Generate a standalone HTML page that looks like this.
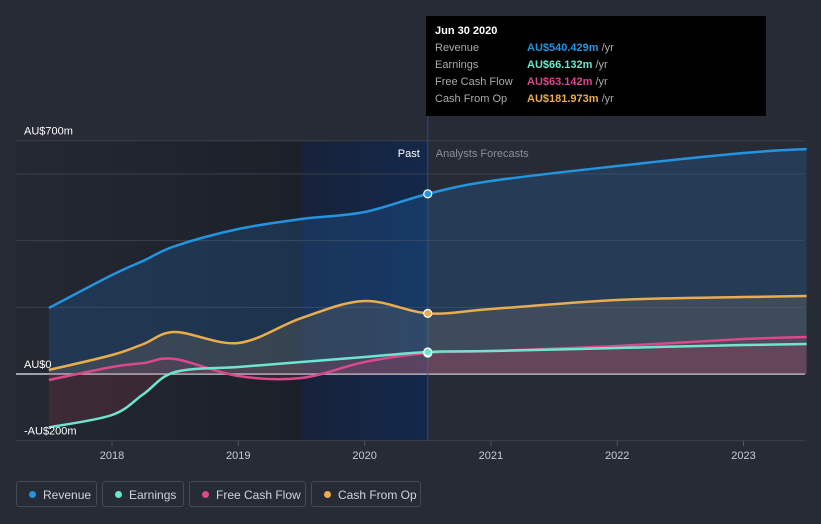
<!DOCTYPE html>
<html><head><meta charset="utf-8">
<style>
body{margin:0;width:821px;height:524px;background:#262b36;font-family:"Liberation Sans",sans-serif;overflow:hidden;position:relative}
.lg{position:absolute;top:481px;height:26px;border:1px solid #444b58;border-radius:3px;color:#d0d4db;font-size:12px;line-height:26px;box-sizing:border-box;padding-left:26px}
.lg i{position:absolute;left:12px;top:9px;width:7px;height:7px;border-radius:50%}
</style></head><body>
<svg id="chart" width="821" height="524" style="position:absolute;left:0;top:0">
<defs>
<linearGradient id="pastg" x1="0" x2="1" y1="0" y2="0"><stop offset="0" stop-color="#232833"/><stop offset="1" stop-color="#1c2029"/></linearGradient>
<linearGradient id="hlg" x1="0" x2="1" y1="0" y2="0"><stop offset="0" stop-color="#17223a"/><stop offset="1" stop-color="#13284a"/></linearGradient>
</defs>
<g id="bg"></g><g id="grid"></g><g id="fills"></g><g id="lines"></g><g id="labels"></g>
</svg>
<div style="position:absolute;left:426px;top:16px;width:340px;height:100px;background:#000;color:#fff;font-size:11px">
<div style="position:absolute;left:9px;top:9px;font-weight:bold">Jun 30 2020</div>
<div style="position:absolute;left:9px;top:26px;color:#aaa">Revenue</div><div style="position:absolute;left:101px;top:26px"><b style="color:#2394df">AU$540.429m</b> <span style="color:#aaa">/yr</span></div>
<div style="position:absolute;left:9px;top:43px;color:#aaa">Earnings</div><div style="position:absolute;left:101px;top:43px"><b style="color:#6ee6cf">AU$66.132m</b> <span style="color:#aaa">/yr</span></div>
<div style="position:absolute;left:9px;top:60px;color:#aaa">Free Cash Flow</div><div style="position:absolute;left:101px;top:60px"><b style="color:#d9498b">AU$63.142m</b> <span style="color:#aaa">/yr</span></div>
<div style="position:absolute;left:9px;top:77px;color:#aaa">Cash From Op</div><div style="position:absolute;left:101px;top:77px"><b style="color:#e9ac4f">AU$181.973m</b> <span style="color:#aaa">/yr</span></div>
</div>
<div class="lg" style="left:16px;width:81px"><i style="background:#2394df"></i>Revenue</div>
<div class="lg" style="left:102px;width:82px"><i style="background:#6ee6cf"></i>Earnings</div>
<div class="lg" style="left:189px;width:117px"><i style="background:#d9498b"></i>Free Cash Flow</div>
<div class="lg" style="left:311px;width:110px"><i style="background:#e9ac4f"></i>Cash From Op</div>
<script>
const times=[2017.5,2018,2018.25,2018.5,2019,2019.5,2020,2020.5,2021,2022,2023,2023.5];
const revenue=[198,297,340,384,435,465,486,540.4,579,624,663,675];
const earnings=[-160,-123,-60,6,21,36,51,66.1,69,78,87,90];
const fcf=[-18,21,33,45,-6,-12,36,63.1,69,84,105,111];
const cfo=[12,57,90,126,93,168,219,182,195,222,231,234];
const yTicks=[-200,0,200,400,600,700];
const yLabels={"-200":"-AU$200m","0":"AU$0","700":"AU$700m"};
const xTicks=[2018,2019,2020,2021,2022,2023];
const pastEnd=2020.5;
const X=t=>112+(t-2018)*126.3, Y=v=>374-v*0.3333;
const NS='http://www.w3.org/2000/svg';
function el(tag,attrs,parent){const e=document.createElementNS(NS,tag);for(const k in attrs)e.setAttribute(k,attrs[k]);document.getElementById(parent).appendChild(e);return e;}
let r=el('rect',{x:16,y:141,width:X(2019.5)-16,height:300,fill:'url(#pastg)'},'bg');

r=el('rect',{x:X(2019.5),y:141,width:X(pastEnd)-X(2019.5),height:300,fill:'url(#hlg)'},'bg');

yTicks.forEach(v=>{const g=el('line',{x1:16,x2:805,y1:Y(v),y2:Y(v),stroke:v==0?'#c8ccd2':'#3a404c','stroke-width':v==0?1.5:1},'grid');

if(yLabels[v]){const t=el('text',{x:24,y:Y(v)-6,fill:'#fff','font-size':11},'labels');t.textContent=yLabels[v];
}});
xTicks.forEach(y=>{const l=el('line',{x1:X(y),x2:X(y),y1:441,y2:446,stroke:'#555'},'grid');

const t=el('text',{x:X(y),y:459,fill:'#c8ccd2','font-size':11,'text-anchor':'middle'},'labels');t.textContent=y;
});
let d=el('line',{x1:X(pastEnd),x2:X(pastEnd),y1:116,y2:441,stroke:'#2a4a78'},'grid');

let t=el('text',{x:X(pastEnd)-8,y:157,fill:'#fff','font-size':11,'text-anchor':'end'},'labels');t.textContent='Past';

t=el('text',{x:X(pastEnd)+8,y:157,fill:'#8a909b','font-size':11},'labels');t.textContent='Analysts Forecasts';

function path(vals){const p=times.map((tt,i)=>[X(tt),Y(vals[i])]);let s='M'+p[0];
for(let i=0;i<p.length-1;i++){const p0=p[i-1]||p[i],p1=p[i],p2=p[i+1],p3=p[i+2]||p2;
const c1=[p1[0]+(p2[0]-p0[0])/6,p1[1]+(p2[1]-p0[1])/6],c2=[p2[0]-(p3[0]-p1[0])/6,p2[1]-(p3[1]-p1[1])/6];
s+=' C'+c1+' '+c2+' '+p2;}return s;}
const series=[[revenue,'#2394df','rgba(35,120,200,0.22)','revenue'],[cfo,'#e9ac4f','rgba(200,170,120,0.15)','cash-from-op'],[fcf,'#d9498b','rgba(200,60,90,0.14)','free-cash-flow'],[earnings,'#6ee6cf','rgba(200,60,80,0.16)','earnings']];
series.forEach(([v,c,f,n])=>{const p=path(v);
const a=el('path',{d:p+` L${X(times[times.length-1])},${Y(0)} L${X(times[0])},${Y(0)} Z`,fill:f},'fills');

const l=el('path',{d:p,fill:'none',stroke:c,'stroke-width':2.5},'lines');

const i=times.indexOf(pastEnd);
const m=el('circle',{cx:X(pastEnd),cy:Y(v[i]),r:4,fill:c,stroke:'#fff','stroke-width':1.2},'lines');
});
</script>
</body></html>
